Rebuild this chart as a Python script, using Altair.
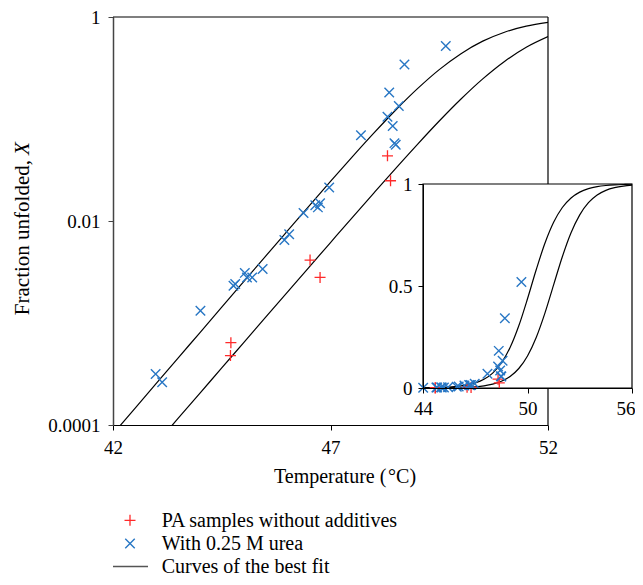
import altair as alt
import pandas as pd

# ---------------- data ----------------
FIT_T = [42, 42.5, 43, 43.5, 44, 44.5, 45, 45.5, 46, 46.5, 47, 47.5, 48, 48.5,
         49, 49.5, 50, 50.5, 51, 51.5, 52, 52.5, 53, 53.5, 54, 54.5, 55, 55.5, 56]
FIT_UPPER = [8.17e-5, 1.450e-4, 2.568e-4, 4.553e-4, 8.06e-4, 1.429e-3, 2.530e-3,
             4.478e-3, 7.905e-3, 0.01394, 0.02444, 0.04252, 0.0730, 0.1225,
             0.1983, 0.3049, 0.4373, 0.5796, 0.7095, 0.8124, 0.8847, 0.9316,
             0.9602, 0.9772, 0.9870, 0.9926, 0.9958, 0.9976, 0.9987]
FIT_LOWER = [2.123e-5, 3.747e-5, 6.606e-5, 1.1656e-4, 2.055e-4, 3.626e-4, 6.388e-4,
             1.1266e-3, 1.9853e-3, 3.499e-3, 6.150e-3, 0.01080, 0.01889, 0.03286,
             0.0565, 0.0956, 0.1571, 0.2475, 0.3670, 0.5057, 0.6434, 0.7609,
             0.8488, 0.9083, 0.9458, 0.9686, 0.9819, 0.9897, 0.9941]

BLUE_T = [49.65, 48.70, 48.35, 48.57, 48.31, 48.43, 48.47, 48.50, 47.70, 46.97,
          46.65, 46.76, 46.71, 46.38, 46.05, 45.94, 45.44, 45.20, 45.08, 45.03,
          44.81, 44.77, 44.01, 42.98, 43.13]
BLUE_X = [0.52, 0.342, 0.182, 0.134, 0.105, 0.0855, 0.058, 0.056, 0.0694, 0.0213,
          0.0143, 0.0149, 0.0136, 0.0120, 0.0074, 0.0065, 0.00338, 0.00280, 0.00280,
          0.00310, 0.00241, 0.00232, 0.00132, 0.000316, 0.000262]
RED_T = [48.31, 48.38, 46.53, 46.76, 44.71, 44.70]
RED_X = [0.0435, 0.0248, 0.00414, 0.0028, 0.000641, 0.000479]

LEGEND_LABELS = ["PA samples without additives", "With 0.25 M urea", "Curves of the best fit"]
MAIN_X_TICKS = [42, 47, 52]
MAIN_Y_TICKS = [0.0001, 0.01, 1]
INSET_X_TICKS = [44, 50, 56]
INSET_Y_TICKS = [0, 0.5, 1]

# ---------------- tables ----------------
fit = pd.concat([
    pd.DataFrame({"T": FIT_T, "X": FIT_UPPER, "curve": "upper"}),
    pd.DataFrame({"T": FIT_T, "X": FIT_LOWER, "curve": "lower"}),
])
blue = pd.DataFrame({"T": BLUE_T, "X": BLUE_X})
red = pd.DataFrame({"T": RED_T, "X": RED_X})

FONT = "Liberation Serif"
RED = "#ff2a2a"
BLUE = "#2776c4"
PLUS = "M-1,0L1,0M0,-1L0,1"
CROSS = "M-1,-1L1,1M-1,1L1,-1"

W, H = 435, 408

# ---------------- main (log) panel ----------------
mx_scale = alt.Scale(domain=[42, 52], nice=False, zero=False)
my_scale = alt.Scale(type="log", domain=[0.0001, 1], nice=False)
mx_axis = alt.Axis(values=MAIN_X_TICKS, title=None, grid=False, tickSize=5,
                   labelFont=FONT, labelFontSize=19, labelColor="black",
                   domainColor="black", tickColor="black", labelPadding=8,
                   labelFlush=False, format="d")
my_axis = alt.Axis(values=MAIN_Y_TICKS, title=None, grid=False, tickSize=5,
                   labelFont=FONT, labelFontSize=19, labelColor="black",
                   domainColor="#444", domainWidth=1.5, tickColor="#444",
                   labelPadding=8,
                   labelExpr="datum.value >= 1 ? '1' : (datum.value >= 0.01 ? '0.01' : '0.0001')")

def mx(field="T"):
    return alt.X(f"{field}:Q", scale=mx_scale, axis=mx_axis)

def my(field="X"):
    return alt.Y(f"{field}:Q", scale=my_scale, axis=my_axis)

frame = pd.DataFrame({"T": [42], "T2": [52], "X": [1], "X2": [0.0001]})
frame_top = alt.Chart(frame).mark_rule(color="black", strokeWidth=1.2).encode(
    x=mx("T"), x2="T2:Q", y=my("X"))
frame_right = alt.Chart(frame).mark_rule(color="black", strokeWidth=1.2).encode(
    x=alt.X("T2:Q", scale=mx_scale, axis=mx_axis), y=my("X"), y2="X2:Q")

main_lines = alt.Chart(fit[fit["T"] <= 52]).mark_line(
    color="black", strokeWidth=1.2, clip=True, interpolate="monotone").encode(
    x=mx(), y=my(), detail="curve:N")
main_red = alt.Chart(red).mark_point(shape=PLUS, size=121, stroke=RED, strokeWidth=1.3,
                                     filled=False, opacity=1).encode(x=mx(), y=my())
main_blue = alt.Chart(blue).mark_point(shape=CROSS, size=90, stroke=BLUE, strokeWidth=1.4,
                                       filled=False, opacity=1).encode(x=mx(), y=my())

one = pd.DataFrame({"a": [0]})
def label(text, x, y, **kw):
    props = dict(font=FONT, fontSize=20, color="black")
    props.update(kw)
    return alt.Chart(one).mark_text(text=text, **props).encode(
        x=alt.value(x), y=alt.value(y))

ytitle1 = label("Fraction unfolded,", -90, 143, angle=270, align="right",
                baseline="middle", fontSize=21)
ytitle2 = label("X", -90, 138, angle=270, align="left", baseline="middle",
                fontStyle="italic", fontSize=21)
xtitle = label("Temperature (\u200a°C)", 232, 466, align="center", baseline="alphabetic")

leg_t1 = label(LEGEND_LABELS[0], 48.7, 510, align="left", baseline="alphabetic")
leg_t2 = label(LEGEND_LABELS[1], 48.7, 533, align="left", baseline="alphabetic")
leg_t3 = label(LEGEND_LABELS[2], 48.7, 555.5, align="left", baseline="alphabetic")
leg_red = alt.Chart(one).mark_point(shape=PLUS, size=121, stroke=RED, strokeWidth=1.3,
                                    filled=False, opacity=1).encode(
    x=alt.value(17), y=alt.value(503.3))
leg_blue = alt.Chart(one).mark_point(shape=CROSS, size=90, stroke=BLUE, strokeWidth=1.4,
                                     filled=False, opacity=1).encode(
    x=alt.value(17), y=alt.value(526.5))
leg_line = alt.Chart(one).mark_rule(color="#555", strokeWidth=1.6).encode(
    x=alt.value(0), x2=alt.value(35), y=alt.value(549.5))

main = alt.layer(frame_top, frame_right, main_lines, main_red, main_blue,
                 ytitle1, ytitle2, xtitle, leg_t1, leg_t2, leg_t3,
                 leg_red, leg_blue, leg_line)

# ---------------- inset (linear) panel ----------------
ix_scale = alt.Scale(domain=[44, 56], range=[310, 519], nice=False, zero=False)
iy_scale = alt.Scale(domain=[0, 1], range=[371, 167], nice=False)
ix_axis = alt.Axis(values=INSET_X_TICKS, orient="bottom", offset=-37, title=None,
                   grid=False, tickSize=5, labelFont=FONT, labelFontSize=19,
                   labelColor="black", domainColor="black", tickColor="black",
                   labelPadding=6, format="d", zindex=1, labelFlush=False,
                   labelAlign={"condition": {"test": "datum.value >= 56", "value": "right"},
                               "value": "center"},
                   labelOffset={"condition": {"test": "datum.value >= 56", "value": 3},
                                "value": 0})
iy_axis = alt.Axis(values=INSET_Y_TICKS, orient="left", offset=-310, title=None,
                   grid=False, tickSize=5, labelFont=FONT, labelFontSize=19,
                   labelColor="black", domainColor="black", tickColor="black",
                   labelPadding=6, format="~g", zindex=1)

def ix(field="T"):
    return alt.X(f"{field}:Q", scale=ix_scale, axis=ix_axis)

def iy(field="X"):
    return alt.Y(f"{field}:Q", scale=iy_scale, axis=iy_axis)

box = pd.DataFrame({"T": [44], "T2": [56], "X": [0], "X2": [1]})
inset_box = alt.Chart(box).mark_rect(fill="white", stroke="black", strokeWidth=1.2).encode(
    x=ix("T"), x2="T2:Q", y=iy("X"), y2="X2:Q")
inset_lines = alt.Chart(fit[fit["T"] >= 44]).mark_line(
    color="black", strokeWidth=1.2, interpolate="monotone").encode(
    x=ix(), y=iy(), detail="curve:N")
inset_red = alt.Chart(red[red["T"] >= 43.95]).mark_point(
    shape=PLUS, size=121, stroke=RED, strokeWidth=1.3, filled=False, opacity=1).encode(
    x=ix(), y=iy())
inset_blue = alt.Chart(blue[blue["T"] >= 43.95]).mark_point(
    shape=CROSS, size=90, stroke=BLUE, strokeWidth=1.4, filled=False, opacity=1).encode(
    x=ix(), y=iy())

inset = alt.layer(inset_box, inset_lines, inset_red, inset_blue)

chart = alt.layer(main, inset).resolve_scale(
    x="independent", y="independent"
).properties(
    width=W, height=H,
    autosize=alt.AutoSizeParams(type="none"),
    padding={"left": 105, "top": 9, "right": 87, "bottom": 152},
    background="white",
).configure_view(strokeWidth=0)

chart.save("out.html", embed_options={"renderer": "svg", "actions": False})
